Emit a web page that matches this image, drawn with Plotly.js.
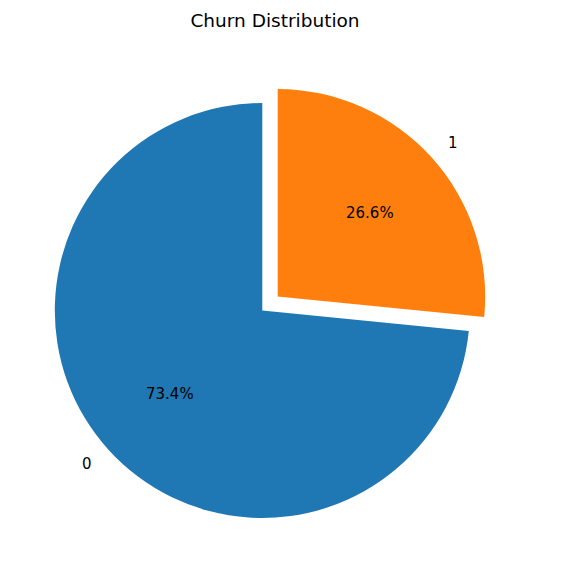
<!DOCTYPE html>
<html>
<head>
<meta charset="utf-8">
<script src="https://cdn.plot.ly/plotly-3.0.1.min.js"></script>
<style>html,body{margin:0;padding:0;background:#fff;}#chart{width:575px;height:561px;}</style>
</head>
<body>
<div id="chart"></div>
<script>
// Data
const categories = ['0', '1'];
const counts = [5163, 1869];
const explode = [0, 0.1];
const colors = ['#1f77b4', '#ff7f0e'];
const titleText = 'Churn Distribution';

// Geometry (pixels)
const W = 575, H = 561;
const cx = 262.3, cy = 310.5, R = 207.5;
const maxPull = Math.max.apply(null, explode);
const half = R * (1 + maxPull);

const total = counts.reduce((a, b) => a + b, 0);
const annotations = [];
let start = 90;
counts.forEach((v, i) => {
  const span = v / total * 360;
  const mid = (start + span / 2) * Math.PI / 180;
  const ox = cx + explode[i] * R * Math.cos(mid);
  const oy = cy - explode[i] * R * Math.sin(mid);
  const px = ox + 0.6 * R * Math.cos(mid);
  const py = oy - 0.6 * R * Math.sin(mid);
  annotations.push({
    x: px / W, y: 1 - py / H, xref: 'paper', yref: 'paper',
    text: (v / total * 100).toFixed(1) + '%', showarrow: false,
    xanchor: 'center', yanchor: 'middle',
    font: {family: 'DejaVu Sans', size: 15, color: '#000'}
  });
  const lx = ox + 1.1 * R * Math.cos(mid);
  const ly = oy - 1.1 * R * Math.sin(mid);
  annotations.push({
    x: lx / W, y: 1 - ly / H, xref: 'paper', yref: 'paper',
    text: categories[i], showarrow: false,
    xanchor: Math.cos(mid) >= 0 ? 'left' : 'right', yanchor: 'middle',
    xshift: Math.cos(mid) >= 0 ? -1 : 1,
    font: {family: 'DejaVu Sans', size: 15, color: '#000'}
  });
  start += span;
});

// matplotlib draws counter-clockwise from 12 o'clock; here slices run clockwise,
// so the first slice starts where the matplotlib first slice ends.
const blueShare = counts[0] / total * 360;
const trace = {
  type: 'pie',
  labels: categories,
  values: counts,
  pull: explode,
  sort: false,
  direction: 'clockwise',
  rotation: 360 - blueShare,
  marker: {colors: colors, line: {width: 0}},
  textinfo: 'none',
  hoverinfo: 'skip',
  domain: {
    x: [(cx - half) / W, (cx + half) / W],
    y: [1 - (cy + half) / H, 1 - (cy - half) / H]
  }
};

const layout = {
  width: W, height: H,
  margin: {l: 0, r: 0, t: 0, b: 0},
  showlegend: false,
  paper_bgcolor: '#fff',
  title: {
    text: titleText,
    x: 275 / W, xref: 'paper', xanchor: 'center',
    y: 1 - 20.5 / H, yref: 'container', yanchor: 'middle',
    font: {family: 'DejaVu Sans', size: 18.5, color: '#000'}
  },
  annotations: annotations
};

Plotly.newPlot('chart', [trace], layout, {displayModeBar: false, staticPlot: true});
</script>
</body>
</html>
